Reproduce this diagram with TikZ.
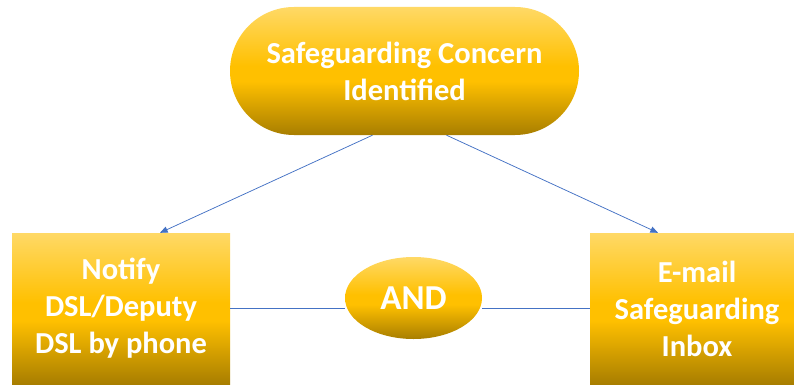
\documentclass[tikz,border=0pt]{standalone}
\usepackage{fontspec}
\setmainfont{Carlito}
\usetikzlibrary{arrows,shapes.geometric}
\definecolor{goldtop}{HTML}{FFD966}
\definecolor{goldmid}{HTML}{FFC000}
\definecolor{goldbot}{HTML}{A87E00}
\definecolor{linkblue}{HTML}{4472C4}
\pgfdeclareverticalshading{goldshade}{100bp}{color(0bp)=(goldbot); color(25bp)=(goldbot);
  color(46bp)=(goldmid); color(52bp)=(goldmid); color(75bp)=(goldtop); color(100bp)=(goldtop)}
\begin{document}
\begin{tikzpicture}[x=1pt,y=-1pt,
    goldbox/.style={shading=goldshade,
      text=white,font=\bfseries\fontsize{30.5}{37}\selectfont,align=center,inner sep=0pt},
    link/.style={draw=linkblue,line width=0.75pt}]
       \clip (0,0) rectangle (794,385);
       % Draw the three boxes and the AND
       \node[goldbox,rounded corners=64pt,minimum width=349pt,minimum height=128pt]
            (concern) at (404.5,71) {Safeguarding Concern\\Identified};
       \node[goldbox,minimum width=218pt,minimum height=151pt]
            (notify) at (121,308.5) {Notify\\DSL/Deputy\\DSL by phone};
       \node[goldbox,minimum width=214pt,minimum height=151pt]
            (email) at (697,308.5) {E-mail\\Safeguarding\\Inbox};
       \node[goldbox,ellipse,minimum width=137pt,minimum height=82pt,
            font=\bfseries\fontsize{35}{40}\selectfont] (and) at (413.5,298) {AND};
       % Draw arrows down to the boxes
       \draw[link,-triangle 45] ([xshift=-32pt]concern.south) -- ([xshift=39pt]notify.north);
       \draw[link,-triangle 45] ([xshift=42pt]concern.south) -- ([xshift=-39pt]email.north);
       % Draw the AND links
       \draw[link] (notify.east |- 0,308) -- (and.west |- 0,308);
       \draw[link] (and.east |- 0,308) -- (email.west |- 0,308);
\end{tikzpicture}
\end{document}
